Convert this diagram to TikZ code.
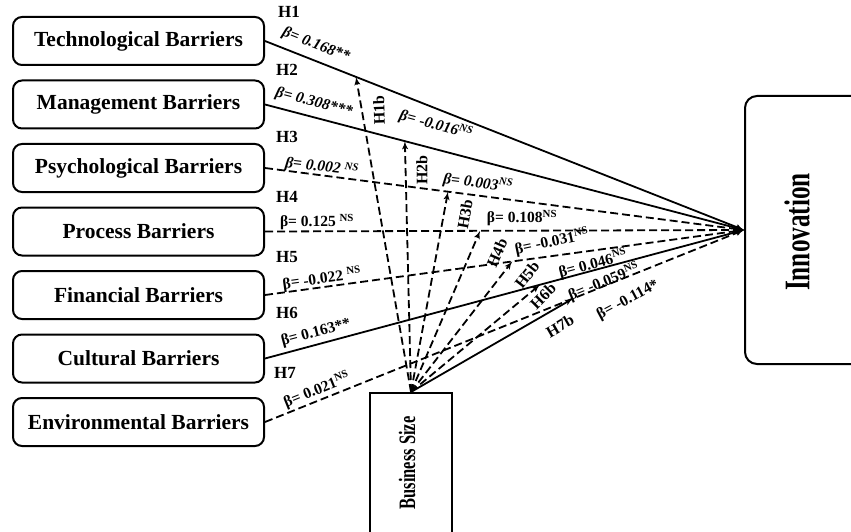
\documentclass[tikz,border=0pt]{standalone}
\usepackage{fontspec}
\setmainfont{Liberation Serif}
\newfontfamily\condfont[FakeStretch=0.7]{Liberation Serif}
\usepackage{tikz}
\usetikzlibrary{arrows,positioning}
\tikzstyle{barrier}=[draw,
                     rounded corners=9pt,
                     line width=2pt,
                     minimum width=251pt,
                     minimum height=48pt,
                     font=\fontsize{21.5}{24}\selectfont\bfseries]
\tikzstyle{outcome}=[draw,
                     rounded corners=12pt,
                     line width=2pt,
                     minimum width=150pt,
                     minimum height=268pt]
\tikzstyle{moderator}=[draw,
                       line width=2pt,
                       minimum width=82pt,
                       minimum height=144pt]
\tikzstyle{effect}=[line width=1.8pt]
\tikzstyle{effdash}=[effect,dash pattern=on 8pt off 4pt]
\tikzstyle{hyp}=[anchor=west,inner sep=0pt,font=\fontsize{17}{20}\selectfont\bfseries]
\tikzstyle{modhyp}=[inner sep=0pt,font=\fontsize{16}{18}\selectfont\bfseries]
\tikzstyle{beta}=[inner sep=0pt,font=\fontsize{15.5}{17}\selectfont\bfseries]
\tikzstyle{betait}=[inner sep=0pt,font=\fontsize{15.5}{17}\selectfont\bfseries\itshape]
\newcommand{\ns}{\textsuperscript{NS}}

\begin{document}
\begin{tikzpicture}[x=1pt,y=1pt,node distance=13.5pt,>=latex']
\useasboundingbox (0,0) rectangle (851,-532);
\clip (0,0) rectangle (851,-532);
\node (tech)  [barrier] at (138.5,-41) {Technological Barriers};
\node (mgmt)  [barrier,below=of tech] {Management Barriers};
\node (psych) [barrier,below=of mgmt] {Psychological Barriers};
\node (proc)  [barrier,below=of psych] {Process Barriers};
\node (fin)   [barrier,below=of proc] {Financial Barriers};
\node (cult)  [barrier,below=of fin] {Cultural Barriers};
\node (env)   [barrier,below=of cult] {Environmental Barriers};
\node (innov) [outcome] at (820,-230) {};
\node (innovlabel) [rotate=90,font=\condfont\fontsize{36}{40}\selectfont\bfseries] at (797,-232) {Innovation};
\node (bsize) [moderator] at (411,-465) {};
\node (bsizelabel) [rotate=90,font=\condfont\fontsize{23.5}{26}\selectfont\bfseries] at (407,-463) {Business Size};
\draw[effect,->]  (tech.east)  -- coordinate[pos=0.19]  (m1) (innov.west);
\draw[effect,->]  (mgmt.east)  -- coordinate[pos=0.292] (m2) (innov.west);
\draw[effdash,->] (psych.east) -- coordinate[pos=0.382] (m3) (innov.west);
\draw[effdash,->] (proc.east)  -- coordinate[pos=0.449] (m4) (innov.west);
\draw[effdash,->] (fin.east)   -- coordinate[pos=0.516] (m5) (innov.west);
\draw[effect,->]  (cult.east)  -- coordinate[pos=0.574] (m6) (innov.west);
\draw[effdash,->] (env.east)   -- coordinate[pos=0.643] (m7) (innov.west);
\draw[effdash,->] (bsize.north) -- (m1);
\draw[effdash,->] (bsize.north) -- (m2);
\draw[effdash,->] (bsize.north) -- (m3);
\draw[effdash,->] (bsize.north) -- (m4);
\draw[effdash,->] (bsize.north) -- (m5);
\draw[effdash,->] (bsize.north) -- (m6);
\draw[effect,->]  (bsize.north) -- (m7);
\node (h1) [hyp] at (278,-12)  {H1};
\node (h2) [hyp] at (276,-70)  {H2};
\node (h3) [hyp] at (276,-137) {H3};
\node (h4) [hyp] at (276,-197) {H4};
\node (h5) [hyp] at (276,-257) {H5};
\node (h6) [hyp] at (276,-313) {H6};
\node (h7) [hyp] at (274,-373) {H7};
\node (b1) [betait,rotate=-21.7] at (316,-45)  {β= 0.168**};
\node (b2) [betait,rotate=-14.6] at (314,-103) {β= 0.308***};
\node (b3) [betait,rotate=-7]    at (322,-167) {β= 0.002 \ns};
\node (b4) [beta]                at (317,-222) {β= 0.125 \ns};
\node (b5) [beta,rotate=8]       at (322,-279) {β= -0.022 \ns};
\node (b6) [beta,rotate=15]      at (316,-333) {β= 0.163**};
\node (b7) [beta,rotate=22]      at (317,-390) {β= 0.021\ns};
\node (h1b) [modhyp,rotate=92] at (379,-110) {H1b};
\node (h2b) [modhyp,rotate=90] at (422,-170) {H2b};
\node (h3b) [modhyp,rotate=80] at (465,-214) {H3b};
\node (h4b) [modhyp,rotate=66] at (497,-253) {H4b};
\node (h5b) [modhyp,rotate=52] at (527,-275) {H5b};
\node (h6b) [modhyp,rotate=45] at (543,-296) {H6b};
\node (h7b) [modhyp,rotate=30] at (560,-326) {H7b};
\node (b1b) [betait,rotate=-15] at (436,-125) {β= -0.016\ns};
\node (b2b) [betait,rotate=-7]  at (478,-183) {β= 0.003\ns};
\node (b3b) [beta]              at (522,-218) {β= 0.108\ns};
\node (b4b) [beta,rotate=12]    at (552,-242) {β= -0.031\ns};
\node (b5b) [beta,rotate=15]    at (593,-264) {β= 0.046\ns};
\node (b6b) [beta,rotate=22]    at (604,-282) {β= -0.059\ns};
\node (b7b) [beta,rotate=28]    at (628,-300) {β= -0.114*};
\end{tikzpicture}
\end{document}
